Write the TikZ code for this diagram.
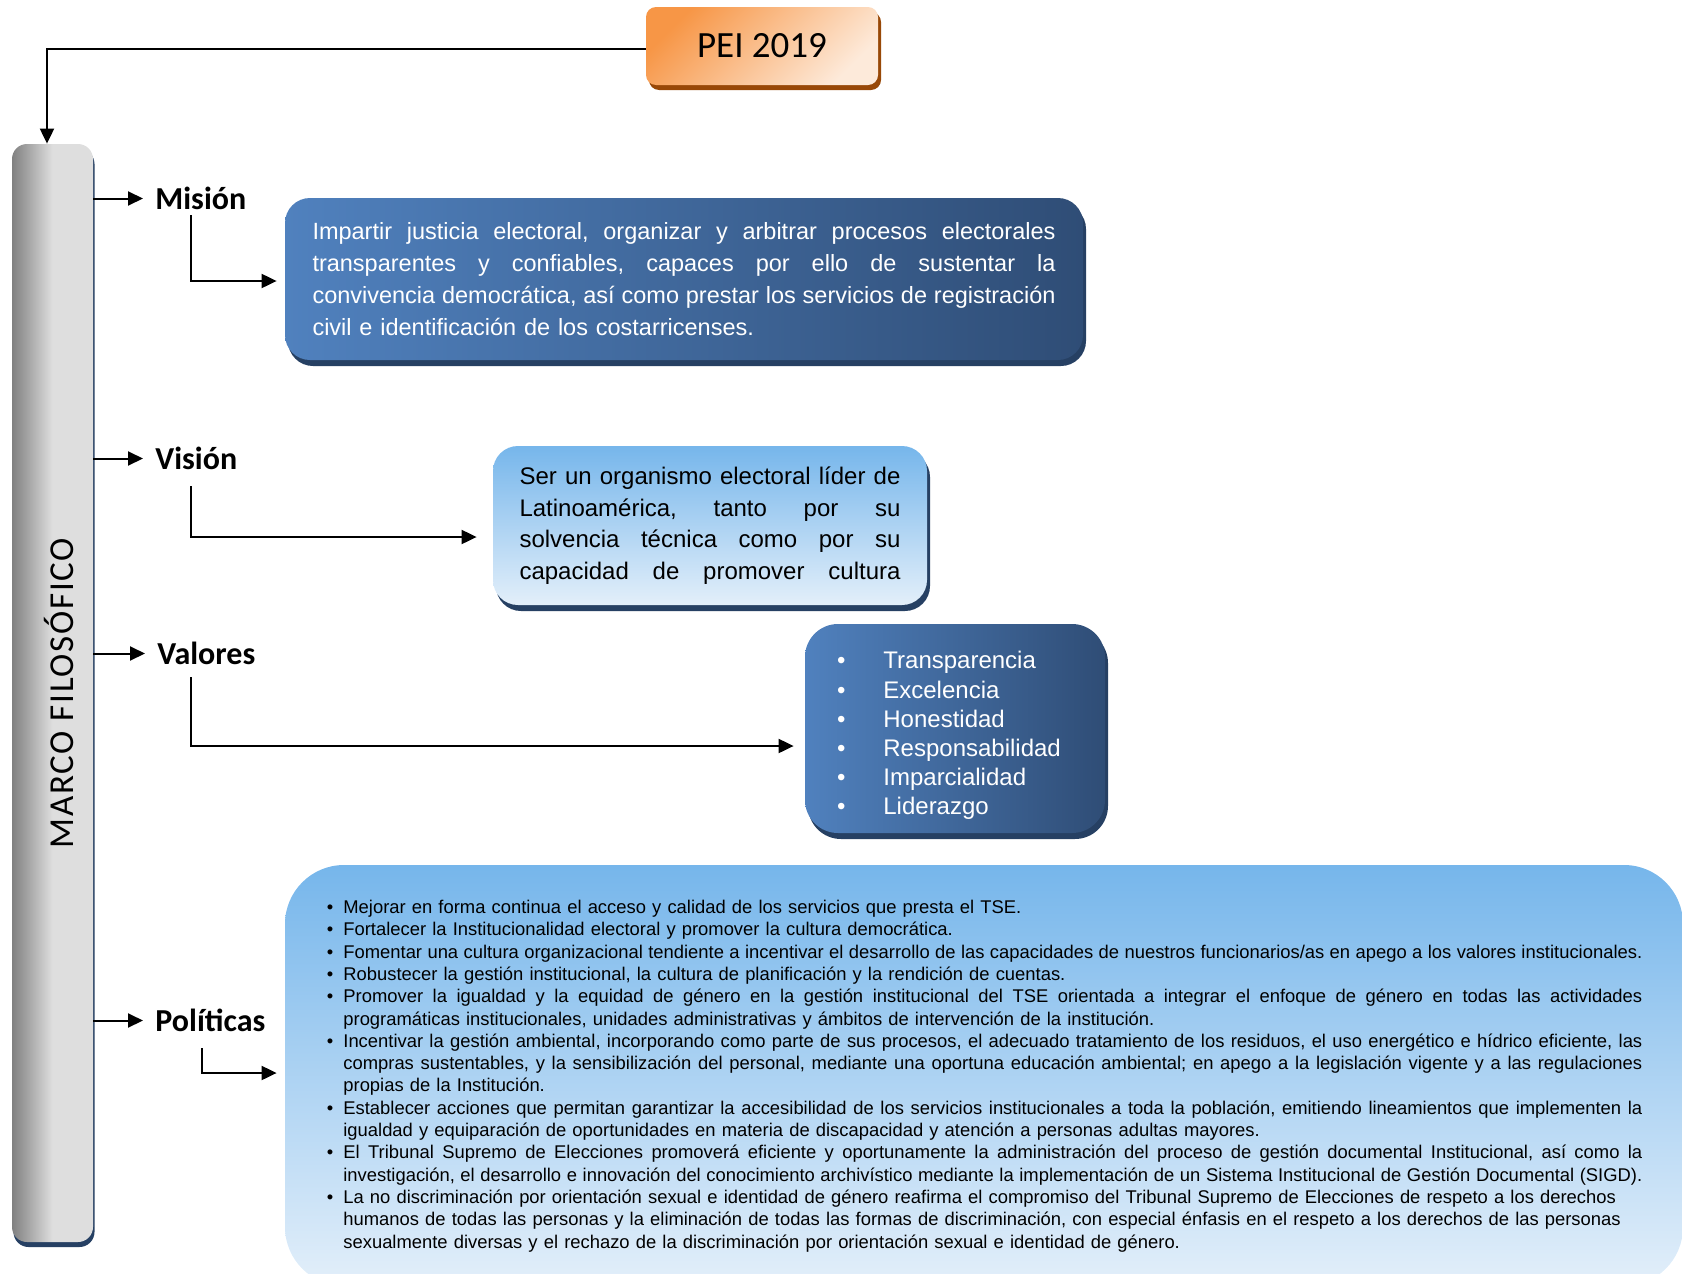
\documentclass[tikz,border=0pt]{standalone}
\usepackage{fontspec}
\setmainfont{Liberation Sans}
\newfontfamily\calibri{Carlito}
\newfontfamily\marcofont[LetterSpace=5]{Carlito}
\usetikzlibrary{arrows.meta,shadows}

\definecolor{darkL}{RGB}{80,129,190}
\definecolor{darkR}{RGB}{47,77,118}
\definecolor{lightT}{RGB}{118,182,235}
\definecolor{lightB}{RGB}{227,239,250}
\definecolor{navy}{RGB}{38,64,99}
\definecolor{peiT}{RGB}{247,150,70}
\definecolor{peiB}{RGB}{253,234,218}
\definecolor{peiS}{RGB}{152,72,7}
\definecolor{barL}{RGB}{128,128,128}
\definecolor{barR}{RGB}{222,222,222}

\def\jlsplit#1 #2\jlend{#1\ifx\relax#2\relax\else\hskip 0.278em plus 1fil minus 0.12em\relax\jlsplit#2\jlend\fi}
\newcommand{\jl}[2]{\makebox[#1][s]{\jlsplit#2 \jlend}}
\newcommand{\vb}{\leavevmode\llap{\textbullet\hspace{19pt}}}
\newcommand{\pb}{\leavevmode\llap{\textbullet\hspace{5pt}}}

\begin{document}
\begin{tikzpicture}[x=0.5pt, y=-0.5pt,
    arr/.style={-{Triangle[length=7.5pt,width=7pt]}, line width=1pt},
    lbl/.style={font=\calibri\bfseries\fontsize{16}{19}\selectfont, inner sep=0pt,
      text height=10.5pt, text depth=0pt, anchor=base west},
    shadowed/.style={drop shadow={shadow xshift=1.5pt, shadow yshift=-3pt, fill=navy, opacity=1}},
    darkbox/.style={rounded corners=12.5pt, left color=darkL, right color=darkR, shadowed,
      text=white, inner sep=0pt, align=left},
    lightbox/.style={rounded corners=12.5pt, top color=lightT, bottom color=lightB,
      inner sep=0pt, align=left},
    peibox/.style={rounded corners=5pt, top color=peiT, bottom color=peiB, shading angle=45,
      minimum width=116pt, minimum height=39pt,
      drop shadow={shadow xshift=1.5pt, shadow yshift=-2.5pt, fill=peiS, opacity=1},
      font=\calibri\fontsize{18.5}{21}\selectfont},
    barbox/.style={rounded corners=7.5pt, left color=barL, right color=barR, middle color=barR,
      minimum width=40.5pt, minimum height=549pt, inner sep=0pt,
      drop shadow={shadow xshift=0.75pt, shadow yshift=-2.5pt, fill=navy, opacity=1}}]

  \useasboundingbox (0,0) rectangle (1682,1274);

  \node[peibox] (pei) at (762,46) {PEI 2019};

  \node[barbox] (bar) at (52.5,693) {};
  \node[rotate=90, font=\marcofont\fontsize{17.5}{20}\selectfont] (marco) at (59,693) {MARCO FILOSÓFICO};

  \path[draw, arr] ([yshift=-1.5pt]pei.west) -| ([xshift=-2.75pt]bar.north);

  \node[lbl] (mis) at (155,209) {Misión};
  \node[lbl] (vis) at (155,469) {Visión};
  \node[lbl] (val) at (157,664) {Valores};
  \node[lbl] (pol) at (155,1031) {Políticas};

  \path[draw, arr, shorten >=6pt] (bar.east |- mis.west) -- (mis.west);
  \path[draw, arr, shorten >=6pt] (bar.east |- vis.west) -- (vis.west);
  \path[draw, arr, shorten >=6pt] (bar.east |- val.west) -- (val.west);
  \path[draw, arr, shorten >=6pt] (bar.east |- pol.west) -- (pol.west);

  \node[darkbox, minimum width=399pt, minimum height=81pt, text width=371.5pt,
    font=\fontsize{11.75}{16}\selectfont] (mbox) at (684,279) {%
    \jl{371.5pt}{Impartir justicia electoral, organizar y arbitrar procesos electorales}\\
    \jl{371.5pt}{transparentes y confiables, capaces por ello de sustentar la}\\
    \jl{371.5pt}{convivencia democrática, así como prestar los servicios de registración}\\
    civil e identificación de los costarricenses.};

  \node[lightbox, shadowed, minimum width=217pt, minimum height=79.5pt, text width=190.5pt,
    font=\fontsize{12}{15.75}\selectfont] (vbox) at (710,525.5) {%
    \jl{190.5pt}{Ser un organismo electoral líder de}\\
    \jl{190.5pt}{Latinoamérica, tanto por su}\\
    \jl{190.5pt}{solvencia técnica como por su}\\
    \jl{190.5pt}{capacidad de promover cultura}};

  \node[darkbox, rounded corners=16.5pt, minimum width=150pt, minimum height=104.5pt] (valbox) at (955,728.5) {};
  \node[anchor=north west, inner sep=0pt, align=left, text=white,
    font=\fontsize{12}{14.6}\selectfont] (valtext) at (883,651) {%
    \vb Transparencia\\
    \vb Excelencia\\
    \vb Honestidad\\
    \vb Responsabilidad\\
    \vb Imparcialidad\\
    \vb Liderazgo};

  \node[lightbox, rounded corners=29.5pt, minimum width=699pt, minimum height=210.5pt] (pbox) at (984,1075.5) {};
  \node[anchor=north west, inner sep=0pt, text width=649.5pt, align=left,
    font=\fontsize{9.2}{11.15}\selectfont] (ptext) at (343,899.8) {%
    \pb Mejorar en forma continua el acceso y calidad de los servicios que presta el TSE.\\
    \pb Fortalecer la Institucionalidad electoral y promover la cultura democrática.\\
    \pb \jl{649.5pt}{Fomentar una cultura organizacional tendiente a incentivar el desarrollo de las capacidades de nuestros funcionarios/as en apego a los valores institucionales.}\\
    \pb Robustecer la gestión institucional, la cultura de planificación y la rendición de cuentas.\\
    \pb \jl{649.5pt}{Promover la igualdad y la equidad de género en la gestión institucional del TSE orientada a integrar el enfoque de género en todas las actividades}\\
    programáticas institucionales, unidades administrativas y ámbitos de intervención de la institución.\\
    \pb \jl{649.5pt}{Incentivar la gestión ambiental, incorporando como parte de sus procesos, el adecuado tratamiento de los residuos, el uso energético e hídrico eficiente, las}\\
    \jl{649.5pt}{compras sustentables, y la sensibilización del personal, mediante una oportuna educación ambiental; en apego a la legislación vigente y a las regulaciones}\\
    propias de la Institución.\\
    \pb \jl{649.5pt}{Establecer acciones que permitan garantizar la accesibilidad de los servicios institucionales a toda la población, emitiendo lineamientos que implementen la}\\
    igualdad y equiparación de oportunidades en materia de discapacidad y atención a personas adultas mayores.\\
    \pb \jl{649.5pt}{El Tribunal Supremo de Elecciones promoverá eficiente y oportunamente la administración del proceso de gestión documental Institucional, así como la}\\
    \jl{649.5pt}{investigación, el desarrollo e innovación del conocimiento archivístico mediante la implementación de un Sistema Institucional de Gestión Documental (SIGD).}\\
    \pb La no discriminación por orientación sexual e identidad de género reafirma el compromiso del Tribunal Supremo de Elecciones de respeto a los derechos\\
    humanos de todas las personas y la eliminación de todas las formas de discriminación, con especial énfasis en el respeto a los derechos de las personas\\
    sexualmente diversas y el rechazo de la discriminación por orientación sexual e identidad de género.};

  \coordinate (mis1) at (191,215);
  \coordinate (mis2) at (191,281);
  \path[draw, arr, shorten >=4pt] (mis1) -- (mis2) -- (mis2 -| mbox.west);

  \coordinate (vis1) at (191,486);
  \coordinate (vis2) at (191,537);
  \path[draw, arr, shorten >=8pt] (vis1) -- (vis2) -- (vis2 -| vbox.west);

  \coordinate (val1) at (191,677);
  \coordinate (val2) at (191,746);
  \path[draw, arr, shorten >=5.5pt] (val1) -- (val2) -- (val2 -| valbox.west);

  \coordinate (pol1) at (202,1048);
  \coordinate (pol2) at (202,1073);
  \path[draw, arr, shorten >=4pt] (pol1) -- (pol2) -- (pol2 -| pbox.west);

\end{tikzpicture}
\end{document}
